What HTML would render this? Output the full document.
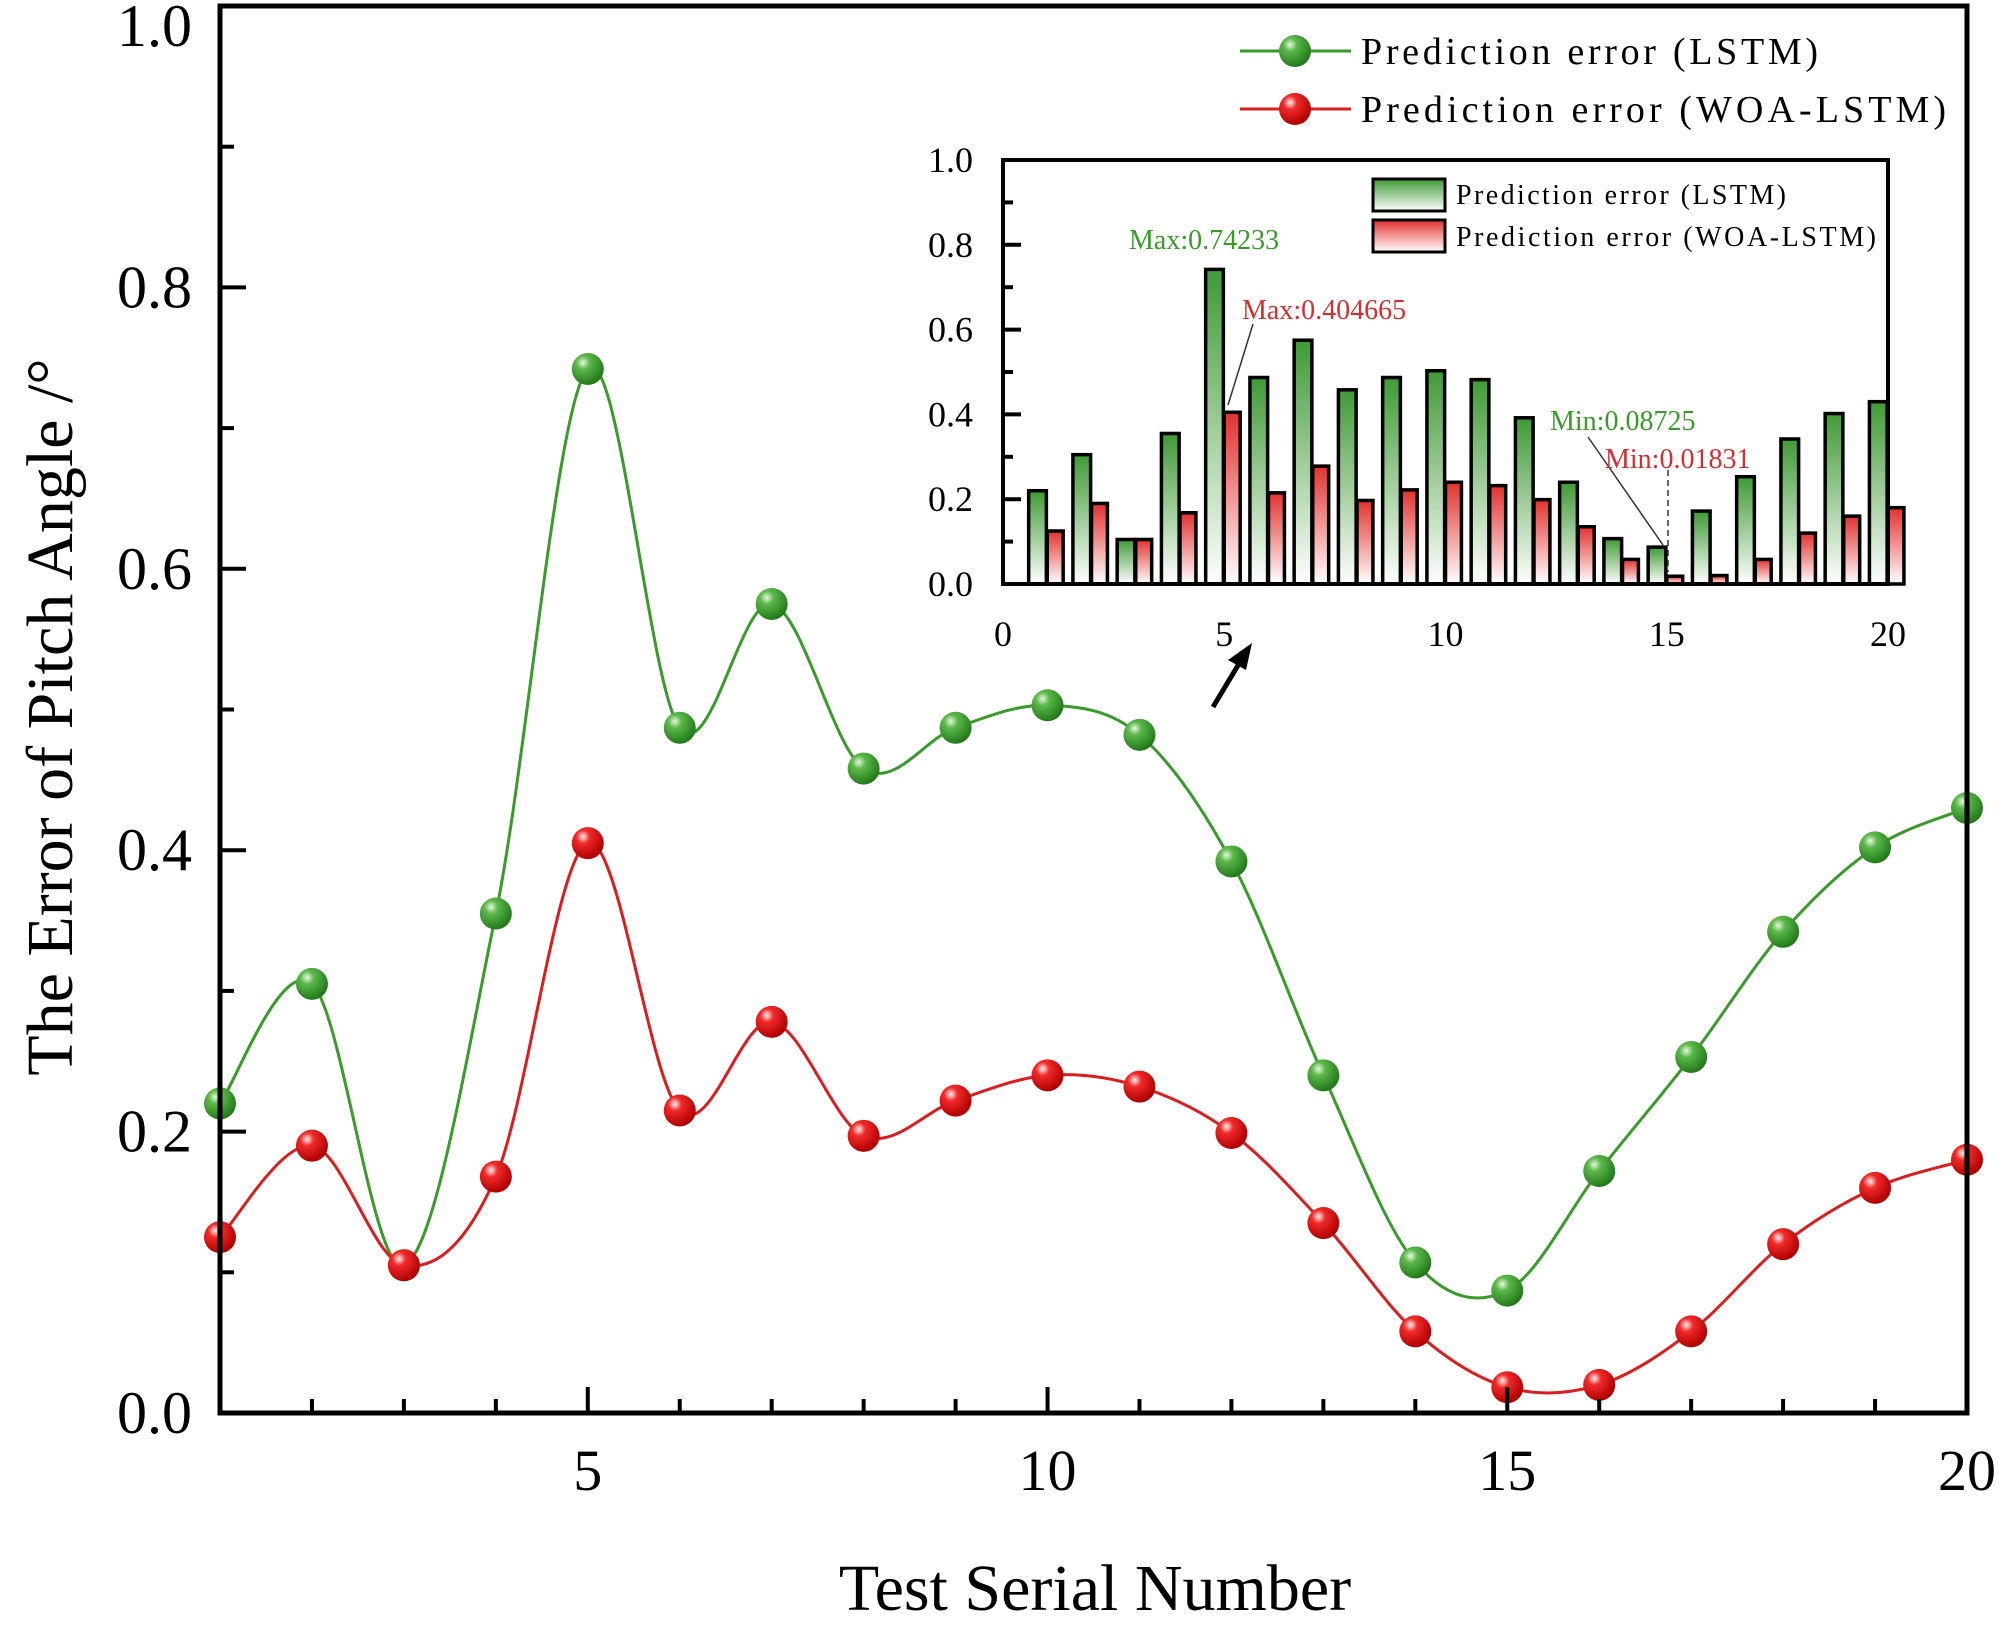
<!DOCTYPE html>
<html><head><meta charset="utf-8"><style>
html,body{margin:0;padding:0;background:#fff;}
svg{display:block;}
text{font-family:"Liberation Serif",serif;}
</style></head><body>
<svg id="s" width="2008" height="1632" viewBox="0 0 2008 1632" xmlns="http://www.w3.org/2000/svg">
<defs>
<radialGradient id="gg" cx="0.35" cy="0.3" r="0.7"><stop offset="0" stop-color="#e8f8e0"/><stop offset="0.3" stop-color="#5cb84a"/><stop offset="1" stop-color="#237a1a"/></radialGradient>
<radialGradient id="rg" cx="0.35" cy="0.3" r="0.7"><stop offset="0" stop-color="#fff0f0"/><stop offset="0.3" stop-color="#f02a2a"/><stop offset="1" stop-color="#b00000"/></radialGradient>
<linearGradient id="bg" x1="0" y1="0" x2="0" y2="1"><stop offset="0" stop-color="#3f9a35"/><stop offset="1" stop-color="#ffffff"/></linearGradient>
<linearGradient id="br" x1="0" y1="0" x2="0" y2="1"><stop offset="0" stop-color="#e3312e"/><stop offset="1" stop-color="#ffffff"/></linearGradient>
</defs>
<g id="main"></g>
</svg>
<script>
var S=document.getElementById('main'),NS='http://www.w3.org/2000/svg';
function el(t,a,txt){var e=document.createElementNS(NS,t);for(var k in a)e.setAttribute(k,a[k]);if(txt!=null)e.textContent=txt;S.appendChild(e);return e;}
var G=[0.22,0.305,0.105,0.355,0.742,0.487,0.575,0.458,0.487,0.503,0.482,0.392,0.24,0.107,0.087,0.172,0.253,0.342,0.402,0.43];
var R=[0.125,0.19,0.105,0.168,0.405,0.215,0.278,0.197,0.222,0.24,0.232,0.199,0.135,0.058,0.0183,0.02,0.058,0.12,0.16,0.18];
var L=220,Rt=1967,T=6,B=1413;
function X(i){return L+(i-1)*(Rt-L)/19;}
function Y(v){return B-v*(B-T);}
function path(d){var p=d.map(function(v,i){return [X(i+1),Y(v)];});var s='M'+p[0][0]+','+p[0][1];
for(var i=0;i<p.length-1;i++){var p0=p[i-1]||p[i],p1=p[i],p2=p[i+1],p3=p[i+2]||p[i+1];
s+=' C'+(p1[0]+(p2[0]-p0[0])/6)+','+(p1[1]+(p2[1]-p0[1])/6)+' '+(p2[0]-(p3[0]-p1[0])/6)+','+(p2[1]-(p3[1]-p1[1])/6)+' '+p2[0]+','+p2[1];}return s;}
el('path',{d:path(G),fill:'none',stroke:'#3a9a2c','stroke-width':3});
el('path',{d:path(R),fill:'none',stroke:'#d81f1f','stroke-width':3});
G.forEach(function(v,i){el('circle',{cx:X(i+1),cy:Y(v),r:16,fill:'url(#gg)'});});
R.forEach(function(v,i){el('circle',{cx:X(i+1),cy:Y(v),r:16,fill:'url(#rg)'});});
el('path',{d:'M'+L+','+T+' H'+Rt+' V'+B+' H'+L+' Z',fill:'none',stroke:'#000','stroke-width':5});
for(var k=0;k<=10;k++){var y=Y(k/10);el('line',{x1:L,y1:y,x2:L+(k%2?14:26),y2:y,stroke:'#000','stroke-width':4});}
for(var v=0;v<=5;v++){var yy=Y(v*0.2)+20;if(v==5)yy=46;el('text',{x:192,y:yy,'font-size':60,'text-anchor':'end'},(v*0.2).toFixed(1));}
for(var i=1;i<=20;i++){var x=X(i);el('line',{x1:x,y1:B,x2:x,y2:B-(i%5?14:26),stroke:'#000','stroke-width':4});}
[5,10,15,20].forEach(function(i){el('text',{x:X(i),y:1490,'font-size':58,'text-anchor':'middle'},i);});
el('text',{x:1095,y:1610,'font-size':66,'text-anchor':'middle'},'Test Serial Number');
el('text',{x:0,y:0,'font-size':66,'text-anchor':'middle',transform:'translate(72,717) rotate(-90)'},'The Error of Pitch Angle /°');
el('line',{x1:1240,y1:51,x2:1351,y2:51,stroke:'#3a9a2c','stroke-width':3});
el('circle',{cx:1295,cy:51,r:16,fill:'url(#gg)'});
el('line',{x1:1240,y1:109,x2:1351,y2:109,stroke:'#d81f1f','stroke-width':3});
el('circle',{cx:1295,cy:109,r:16,fill:'url(#rg)'});
el('text',{x:1361,y:64,'font-size':38,textLength:457,lengthAdjust:'spacing'},'Prediction error (LSTM)');
el('text',{x:1361,y:122,'font-size':38,textLength:585,lengthAdjust:'spacing'},'Prediction error (WOA-LSTM)');
var iL=1003,iR=1888,iT=160,iB=584;
function IX(i){return iL+i*(iR-iL)/20;}function IY(v){return iB-v*(iB-iT);}
for(var i=1;i<=20;i++){var g=G[i-1],r=R[i-1];
el('rect',{x:IX(i-0.42),y:IY(g),width:(iR-iL)/20*0.4,height:iB-IY(g),fill:'url(#bg)',stroke:'#000','stroke-width':3.5});
el('rect',{x:IX(i),y:IY(r),width:(iR-iL)/20*0.36,height:iB-IY(r),fill:'url(#br)',stroke:'#000','stroke-width':3.5});}
el('path',{d:'M'+iL+','+iT+' H'+iR+' V'+iB+' H'+iL+' Z',fill:'none',stroke:'#000','stroke-width':4});
for(var k=0;k<=10;k++){var y=IY(k/10);el('line',{x1:iL,y1:y,x2:iL+(k%2?10:18),y2:y,stroke:'#000','stroke-width':4});}
for(var v=0;v<=5;v++){el('text',{x:973,y:IY(v*0.2)+12,'font-size':36,'text-anchor':'end'},(v*0.2).toFixed(1));}
[0,5,10,15,20].forEach(function(i){el('text',{x:IX(i),y:646,'font-size':36,'text-anchor':'middle'},i);});
el('rect',{x:1373,y:179,width:72,height:32,fill:'url(#bg)',stroke:'#000','stroke-width':3});
el('rect',{x:1373,y:220,width:72,height:32,fill:'url(#br)',stroke:'#000','stroke-width':3});
el('text',{x:1456,y:204,'font-size':28,textLength:330,lengthAdjust:'spacing'},'Prediction error (LSTM)');
el('text',{x:1456,y:246,'font-size':28,textLength:420,lengthAdjust:'spacing'},'Prediction error (WOA-LSTM)');
el('text',{x:1129,y:249,'font-size':28,fill:'#3a9a2c'},'Max:0.74233');
el('text',{x:1242,y:319,'font-size':28,fill:'#d03030'},'Max:0.404665');
el('line',{x1:1253,y1:324,x2:1228,y2:405,stroke:'#333','stroke-width':1.5});
el('text',{x:1550,y:430,'font-size':28,fill:'#3a9a2c'},'Min:0.08725');
el('line',{x1:1588,y1:437,x2:1663,y2:545,stroke:'#333','stroke-width':1.5});
el('text',{x:1605,y:468,'font-size':28,fill:'#d03030'},'Min:0.01831');
el('line',{x1:1668,y1:470,x2:1668,y2:572,stroke:'#333','stroke-width':1.5,'stroke-dasharray':'6,4'});
el('line',{x1:1213,y1:707,x2:1240,y2:662,stroke:'#000','stroke-width':5});
el('path',{d:'M1252,643 L1228,660 L1246,670 Z',fill:'#000'});
</script>
</body></html>
